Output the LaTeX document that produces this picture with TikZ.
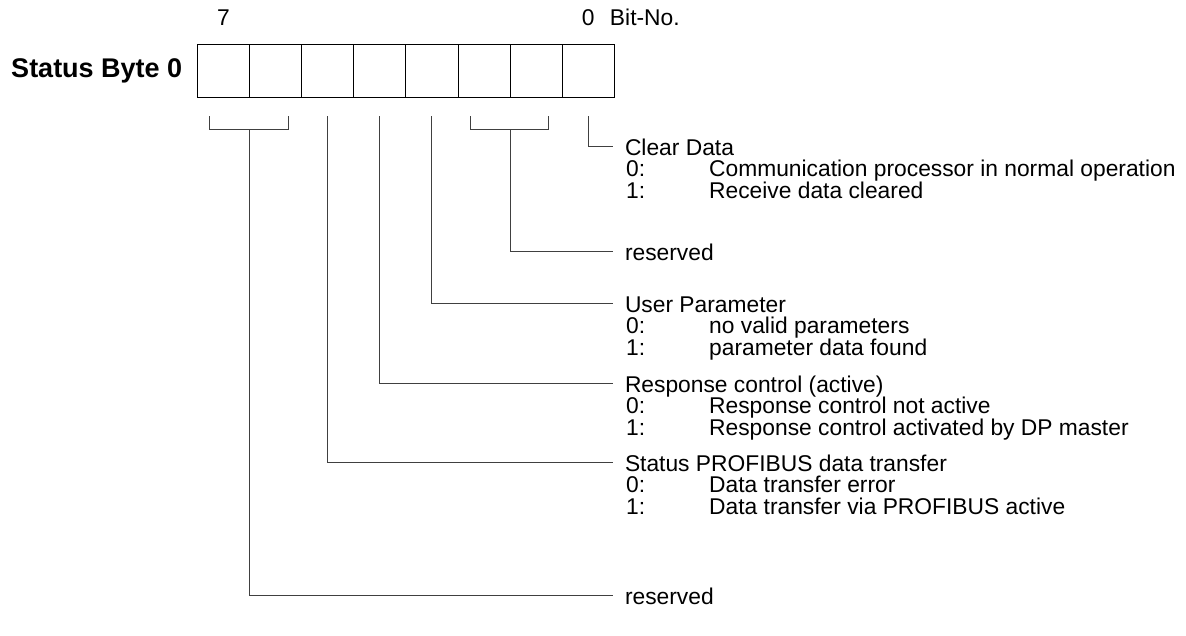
\documentclass[tikz,border=0pt]{standalone}
\usepackage{fontspec}
\setmainfont{Liberation Sans}
\usetikzlibrary{positioning}

\begin{document}
\begin{tikzpicture}[x=1pt, y=-1pt,
  txt/.style={anchor=base west, inner sep=0pt, font=\fontsize{22.8}{26}\selectfont},
  lbl/.style={txt, outer xsep=12pt, text height=16.4pt, text depth=0pt},
  bitcell/.style={draw, line width=1pt, minimum width=52.1pt, minimum height=53pt,
                  inner sep=0pt, outer sep=0pt},
  lead/.style={draw=black!75, line width=1pt}]

  \useasboundingbox (0,0) rectangle (1186,635);

  % status byte, bit 7 left
  \node[bitcell] (b7) at (223.55,70.5) {};
  \foreach \i [evaluate=\i as \j using int(\i+1)] in {6,5,...,0}
    \node[bitcell, right=0pt of b\j] (b\i) {};

  \node[inner sep=0pt, font=\fontsize{27}{30}\selectfont\bfseries, left=15pt of b7] (title) {Status Byte 0};
  \node[txt, anchor=south, above=18pt of b7] (n7) {7};
  \node[txt, anchor=south, above=18pt of b0] (n0) {0};
  \node[txt, right=15pt of n0.base east, anchor=base west] (bitno) {Bit-No.};

  % descriptions
  \node[lbl] (clr)  at (613,155)   {Clear Data};
  \node[txt] (clr0) at (626,176.7) {\makebox[83pt][l]{0:}Communication processor in normal operation};
  \node[txt] (clr1) at (626,198.4) {\makebox[83pt][l]{1:}Receive data cleared};

  \node[lbl] (res1) at (613,260)   {reserved};

  \node[lbl] (upar)  at (613,312)   {User Parameter};
  \node[txt] (upar0) at (626,333.7) {\makebox[83pt][l]{0:}no valid parameters};
  \node[txt] (upar1) at (626,355.4) {\makebox[83pt][l]{1:}parameter data found};

  \node[lbl] (resp)  at (613,392)   {Response control (active)};
  \node[txt] (resp0) at (626,413.7) {\makebox[83pt][l]{0:}Response control not active};
  \node[txt] (resp1) at (626,435.4) {\makebox[83pt][l]{1:}Response control activated by DP master};

  \node[lbl] (stat)  at (613,471)   {Status PROFIBUS data transfer};
  \node[txt] (stat0) at (626,492.7) {\makebox[83pt][l]{0:}Data transfer error};
  \node[txt] (stat1) at (626,514.4) {\makebox[83pt][l]{1:}Data transfer via PROFIBUS active};

  \node[lbl] (res2) at (613,604)   {reserved};

  % leader lines
  \draw[lead] (b0.south) ++(0,19) |- (clr.west);
  \draw[lead] (b2.south) ++(-14,19) -- ++(0,13) -- ++(78,0) -- ++(0,-13);
  \draw[lead] (b2.south east) ++(0,32) |- (res1.west);
  \draw[lead] (b3.south) ++(0,19) |- (upar.west);
  \draw[lead] (b4.south) ++(0,19) |- (resp.west);
  \draw[lead] (b5.south) ++(0,19) |- (stat.west);
  \draw[lead] (b7.south) ++(-14,19) -- ++(0,13) -- ++(79,0) -- ++(0,-13);
  \draw[lead] (b7.south east) ++(0,32) |- (res2.west);

\end{tikzpicture}
\end{document}
